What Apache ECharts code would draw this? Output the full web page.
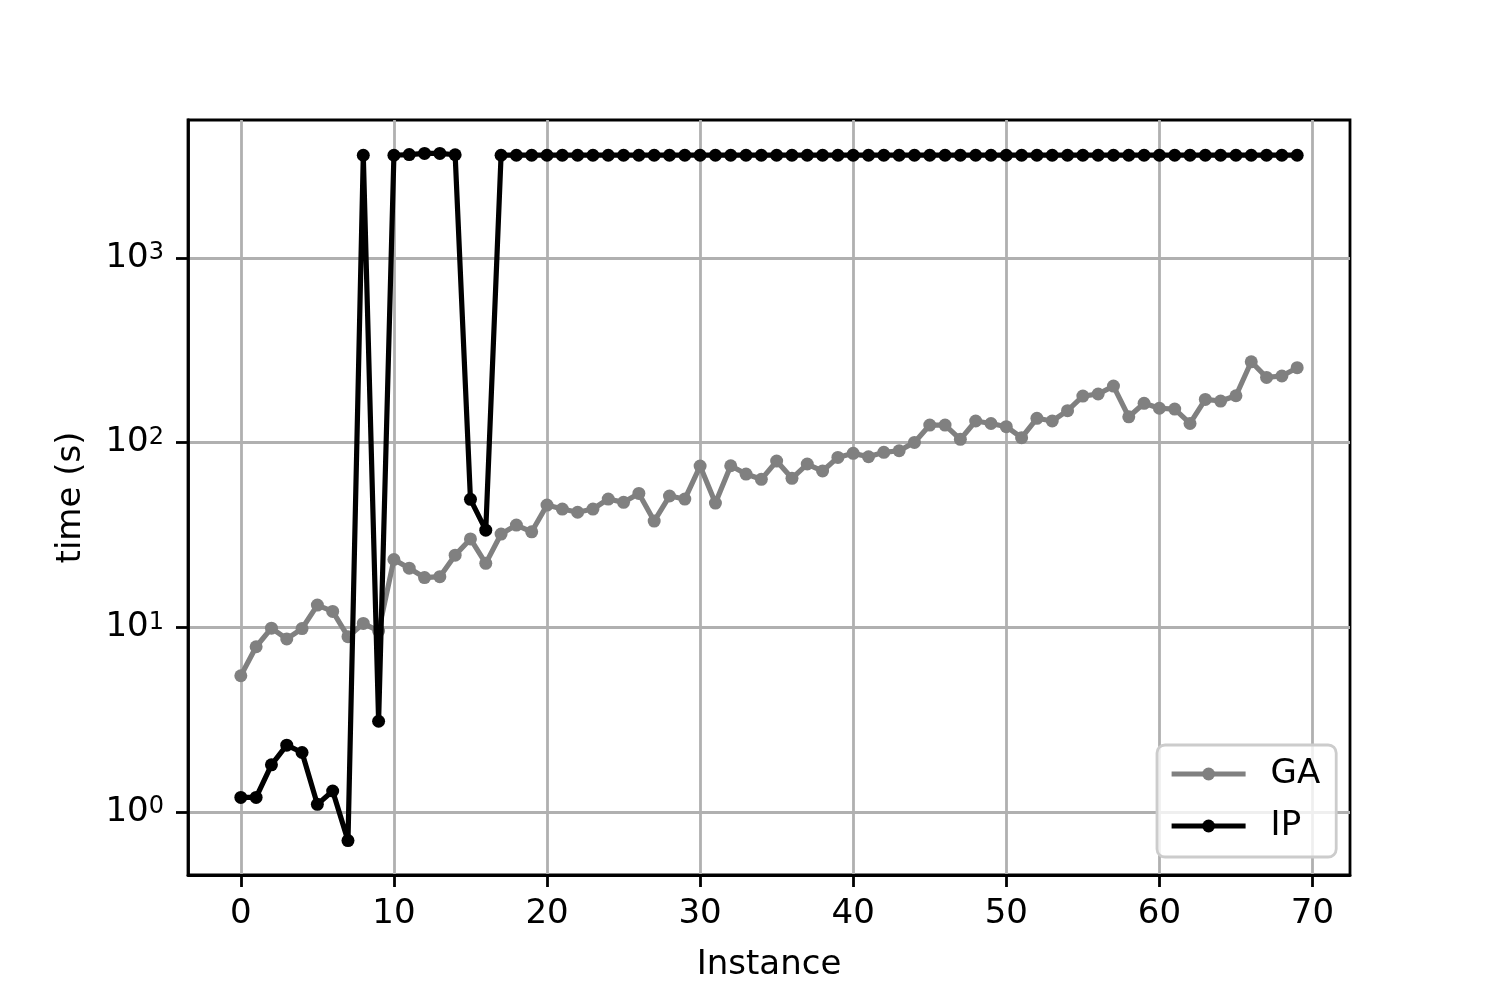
<!DOCTYPE html>
<html>
<head>
<meta charset="utf-8">
<title>GA vs IP</title>
<script src="https://cdn.jsdelivr.net/npm/echarts@6/dist/echarts.min.js"></script>
<style>
  html, body { margin: 0; padding: 0; background: #fff; }
  #main { width: 1500px; height: 1000px; }
</style>
</head>
<body>
<div id="main"></div>
<script type="text/javascript">
// instances 0..69, time in seconds (log scale)
var instances = [0, 1, 2, 3, 4, 5, 6, 7, 8, 9,
  10, 11, 12, 13, 14, 15, 16, 17, 18, 19,
  20, 21, 22, 23, 24, 25, 26, 27, 28, 29,
  30, 31, 32, 33, 34, 35, 36, 37, 38, 39,
  40, 41, 42, 43, 44, 45, 46, 47, 48, 49,
  50, 51, 52, 53, 54, 55, 56, 57, 58, 59,
  60, 61, 62, 63, 64, 65, 66, 67, 68, 69];

var gaTimes = [5.47, 7.85, 9.9, 8.65, 9.85, 13.2, 12.2, 8.9, 10.5, 9.55,
  23.3, 20.9, 18.6, 18.8, 24.6, 30.1, 22.2, 32, 35.8, 32.9,
  45.9, 43.7, 42, 43.7, 49.5, 47.5, 53.1, 37.6, 51.4, 49.5,
  74.7, 47.1, 75, 67.6, 63.3, 79.5, 64.1, 76.6, 70.2, 83.2,
  87.5, 83.9, 88.6, 90.4, 100.3, 124.5, 124.5, 104.2, 131, 127,
  122, 106.4, 135.5, 131, 149, 178.7, 183.4, 202.4, 138, 163.3,
  153.5, 152, 127, 171.5, 168, 179.5, 274, 225.6, 229.5, 254.6];

var ipTimes = [1.2, 1.2, 1.8, 2.3, 2.1, 1.1, 1.3, 0.70, 3600, 3.1,
  3600, 3630, 3680, 3680, 3620, 49.3, 33.6, 3600, 3600, 3600,
  3600, 3600, 3600, 3600, 3600, 3600, 3600, 3600, 3600, 3600,
  3600, 3600, 3600, 3600, 3600, 3600, 3600, 3600, 3600, 3600,
  3600, 3600, 3600, 3600, 3600, 3600, 3600, 3600, 3600, 3600,
  3600, 3600, 3600, 3600, 3600, 3600, 3600, 3600, 3600, 3600,
  3600, 3600, 3600, 3600, 3600, 3600, 3600, 3600, 3600, 3600];

var xTicks = [0, 10, 20, 30, 40, 50, 60, 70];
var yTicks = [1, 10, 100, 1000];

function pairs(ys) {
  return instances.map(function (x, i) { return [x, ys[i]]; });
}

var font = "DejaVu Sans";
var chart = echarts.init(document.getElementById("main"));

var option = {
  animation: false,
  backgroundColor: "#fff",
  textStyle: { fontFamily: font, color: "#000" },
  grid: {
    left: 188, top: 120, width: 1162, height: 755,
    show: true, borderColor: "#000", borderWidth: 2.8,
    backgroundColor: "transparent"
  },
  legend: {
    orient: "vertical",
    left: 1157, top: 745,
    padding: [12, 16, 14, 12],
    itemGap: 18,
    itemWidth: 74,
    itemHeight: 16,
    backgroundColor: "rgba(255,255,255,0.8)",
    borderColor: "#cccccc",
    borderWidth: 2.8,
    borderRadius: 8,
    lineStyle: { width: 5.2 },
    textStyle: { fontFamily: font, fontSize: 34, color: "#000", padding: [0, 0, 0, 20] },
    data: ["GA", "IP"]
  },
  xAxis: {
    type: "value",
    min: -3.45, max: 72.45,
    name: "Instance",
    nameLocation: "middle",
    nameGap: 73,
    nameTextStyle: { fontFamily: font, fontSize: 34, color: "#000" },
    axisLine: { show: true, onZero: false, lineStyle: { color: "#000", width: 2.8 } },
    axisTick: { show: true, length: 12, lineStyle: { color: "#000", width: 2.8 }, customValues: xTicks },
    axisLabel: { fontFamily: font, fontSize: 34, color: "#000", margin: 22, customValues: xTicks },
    splitLine: { show: true, lineStyle: { color: "#b0b0b0", width: 2.8 } }
  },
  yAxis: {
    type: "log",
    logBase: 10,
    min: 0.456, max: 5585,
    name: "time (s)",
    nameLocation: "middle",
    nameGap: 100,
    nameTextStyle: { fontFamily: font, fontSize: 34, color: "#000" },
    axisLine: { show: true, onZero: false, lineStyle: { color: "#000", width: 2.8 } },
    axisTick: { show: true, length: 12, lineStyle: { color: "#000", width: 2.8 }, customValues: yTicks },
    axisLabel: {
      margin: 24,
      customValues: yTicks,
      formatter: function (v) {
        return "{b|10}{s|" + Math.round(Math.log10(v)) + "}";
      },
      rich: {
        b: { fontFamily: font, fontSize: 34, lineHeight: 34, color: "#000" },
        s: { fontFamily: font, fontSize: 24, lineHeight: 24, color: "#000", verticalAlign: "top" }
      }
    },
    splitLine: { show: true, lineStyle: { color: "#b0b0b0", width: 2.8 } }
  },
  series: [
    {
      name: "GA",
      type: "line",
      data: pairs(gaTimes),
      symbol: "circle",
      symbolSize: 13,
      showAllSymbol: true,
      color: "#808080",
      lineStyle: { color: "#808080", width: 5.2 },
      itemStyle: { color: "#808080" },
      z: 2
    },
    {
      name: "IP",
      type: "line",
      data: pairs(ipTimes),
      symbol: "circle",
      symbolSize: 13,
      showAllSymbol: true,
      color: "#000",
      lineStyle: { color: "#000", width: 5.2 },
      itemStyle: { color: "#000" },
      z: 3
    }
  ]
};

chart.setOption(option);
</script>
</body>
</html>
